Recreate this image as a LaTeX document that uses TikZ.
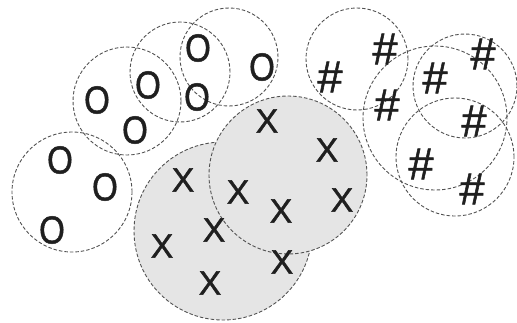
\documentclass[tikz,border=0pt]{standalone}
\usepackage{fontspec}
\setmainfont{Liberation Sans}
\newfontfamily\marcafont{Liberation Sans}[RawFeature={embolden=1.2}]

\begin{document}
\begin{tikzpicture}[x=1pt, y=-1pt,
    grupo/.style={draw=black!68, dash pattern=on 3.5pt off 2pt, line width=0.9pt},
    sombra/.style={grupo, fill=black!10},
    marcaO/.style={inner sep=0pt, xscale=0.85, text=black!88, font=\marcafont\fontsize{39}{39}\selectfont},
    marcaX/.style={inner sep=0pt, text=black!88, font=\marcafont\fontsize{34}{34}\selectfont},
    marcaH/.style={inner sep=0pt, text=black!88, font=\marcafont\fontsize{45}{45}\selectfont}]

    \useasboundingbox (0,0) rectangle (517,322);

    % Grupos de O
    \draw[grupo] (72,192)  circle[radius=60pt];
    \draw[grupo] (127,101) circle[radius=54pt];
    \draw[grupo] (180,72)  circle[radius=50pt];
    \draw[grupo] (229,57)  circle[radius=49pt];

    % Grupos de #
    \draw[grupo] (357,59)  circle[radius=51pt];
    \draw[grupo] (435,118) circle[radius=72pt];
    \draw[grupo] (465,86)  circle[radius=52pt];
    \draw[grupo] (455,157) circle[radius=59pt];

    % Grupos de X (sombreados)
    \draw[sombra] (223,231) circle[radius=89pt];
    \draw[sombra] (288,175) circle[radius=79pt];

    % Marcas
    \foreach \px/\py [count=\i] in {198/48, 262/67, 148/85, 197/97, 97/100,
                                    135/130, 60/160, 105/187, 52/230}
        \node[marcaO] (o\i) at (\px,\py) {O};

    \foreach \px/\py [count=\i] in {267/121, 327/150, 183/180, 238/192, 281/211,
                                    342/200, 214/230, 162/246, 282/262, 210/283}
        \node[marcaX] (x\i) at (\px,\py) {X};

    \foreach \px/\py [count=\i] in {385/49, 330/77, 387/105, 435/78, 483/54,
                                    474/121, 421/164, 472/189}
        \node[marcaH] (h\i) at (\px,\py) {\#};
\end{tikzpicture}
\end{document}
